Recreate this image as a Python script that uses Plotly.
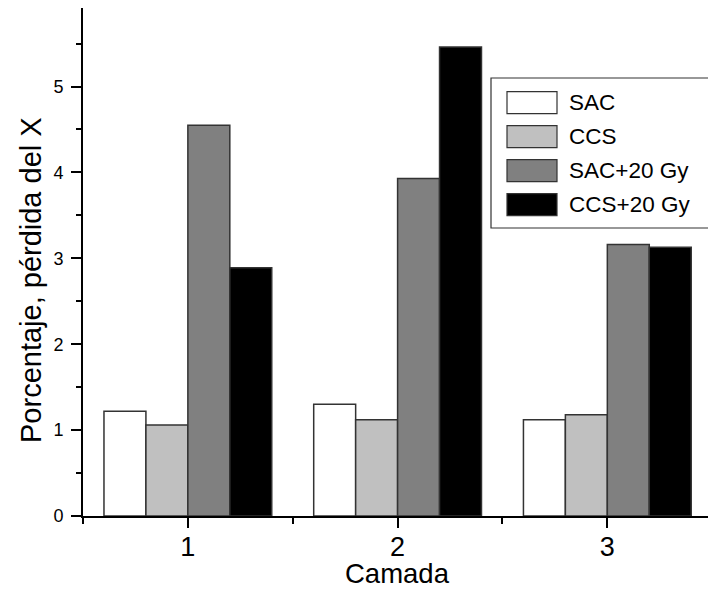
import plotly.graph_objects as go

categories = [1, 2, 3]
tick_labels = ["1", "2", "3"]
series_names = ["SAC", "CCS", "SAC+20 Gy", "CCS+20 Gy"]
sac = [1.22, 1.30, 1.12]
ccs = [1.06, 1.12, 1.18]
sac20 = [4.55, 3.93, 3.16]
ccs20 = [2.89, 5.46, 3.13]
colors = ["#ffffff", "#c0c0c0", "#808080", "#000000"]

FONT = "Liberation Sans, Arial, Helvetica, sans-serif"
W, H = 708, 590
L, R, T, B = 83, 0, 8, 74
PW, PH = W - L - R, H - T - B


def px(x):
    return (x - L) / PW


def py(y):
    return (H - B - y) / PH


fig = go.Figure()
for name, vals, col in zip(series_names, [sac, ccs, sac20, ccs20], colors):
    fig.add_trace(go.Bar(
        x=categories, y=vals, name=name,
        marker=dict(color=col, line=dict(color="#333333", width=1.5)),
        showlegend=False,
    ))

shapes = []
annotations = []
# legend box
shapes.append(dict(type="rect", xref="paper", yref="paper",
                   x0=px(491), x1=px(740), y0=py(228), y1=py(78),
                   line=dict(color="#333333", width=1.2), fillcolor="white", layer="above"))
for i, (name, col) in enumerate(zip(series_names, colors)):
    cy = 102.7 + 34 * i
    shapes.append(dict(type="rect", xref="paper", yref="paper",
                       x0=px(507), x1=px(557), y0=py(cy + 11), y1=py(cy - 11),
                       line=dict(color="#333333", width=1.2), fillcolor=col, layer="above"))
    annotations.append(dict(xref="paper", yref="paper", x=px(567), y=py(cy),
                            xanchor="left", yanchor="middle", showarrow=False,
                            text=name, font=dict(family=FONT, size=22.5, color="black")))

annotations.append(dict(xref="paper", yref="paper", x=px(31), y=py(280),
                        xanchor="center", yanchor="middle", showarrow=False, textangle=-90,
                        text="Porcentaje, pérdida del X",
                        font=dict(family=FONT, size=29, color="black")))
annotations.append(dict(xref="paper", yref="paper", x=px(397), y=py(573),
                        xanchor="center", yanchor="middle", showarrow=False,
                        text="Camada",
                        font=dict(family=FONT, size=27.5, color="black")))

fig.update_layout(
    width=W, height=H,
    margin=dict(l=L, r=R, t=T, b=B, pad=0),
    paper_bgcolor="white", plot_bgcolor="white",
    barmode="group", bargap=0.2, bargroupgap=0,
    shapes=shapes, annotations=annotations,
    showlegend=False,
    xaxis=dict(range=[0.5, 3.48], tickvals=categories, ticktext=tick_labels,
               ticks="outside", ticklen=10, tickwidth=1.5, tickcolor="black",
               showline=True, linecolor="black", linewidth=2,
               showgrid=False, zeroline=False, ticklabelstandoff=-4,
               tickfont=dict(family=FONT, size=27, color="black"),
               minor=dict(tickvals=[0.5, 1.5, 2.5], ticks="outside", ticklen=6,
                          tickwidth=1.5, tickcolor="black", showgrid=False)),
    yaxis=dict(range=[0, 5.914], tickvals=[0, 1, 2, 3, 4, 5],
               ticks="outside", ticklen=10, tickwidth=1.5, tickcolor="black",
               showline=True, linecolor="black", linewidth=2,
               showgrid=False, zeroline=False, ticklabelstandoff=4,
               tickfont=dict(family=FONT, size=18, color="black"),
               minor=dict(tickvals=[0.5, 1.5, 2.5, 3.5, 4.5, 5.5], ticks="outside",
                          ticklen=5, tickwidth=1.5, tickcolor="black", showgrid=False)),
)

fig.write_html("out.html", config={"displayModeBar": False},
               post_script="document.body.style.margin='0';document.body.style.overflow='hidden';")
